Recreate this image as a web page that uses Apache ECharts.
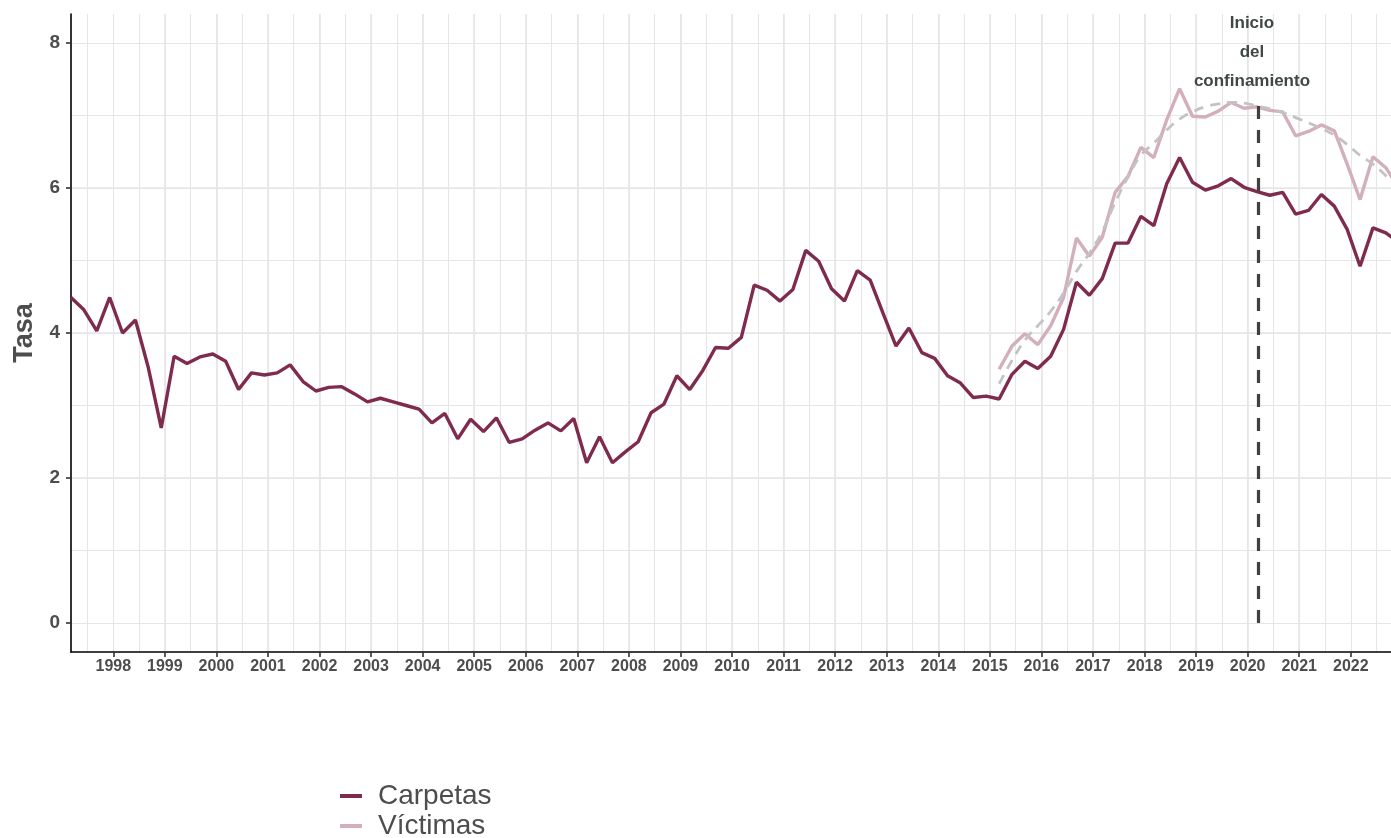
<!DOCTYPE html>
<html>
<head>
<meta charset="utf-8">
<script src="https://cdn.jsdelivr.net/npm/echarts@6/dist/echarts.min.js"></script>
<style>
  html, body { margin: 0; padding: 0; background: #fff; }
  #chart { width: 1391px; height: 838px; }
</style>
</head>
<body>
<div id="chart"></div>
<script>
// Quarterly periods: first quarter shown is 1997 Q1, last is 2022 Q4
const firstYear = 1997;
const quarterOffset = 0.18;   // position of each quarter's date inside the year (x in decimal years)

// Tasa de carpetas (1997 Q1 ... 2022 Q4)
const carpetas = [
  4.49, 4.32, 4.03, 4.49, 4.00, 4.18, 3.52, 2.69, 3.68, 3.58,
  3.67, 3.71, 3.61, 3.22, 3.45, 3.42, 3.45, 3.56, 3.33, 3.20,
  3.25, 3.26, 3.16, 3.05, 3.10, 3.05, 3.00, 2.95, 2.76, 2.89,
  2.54, 2.81, 2.64, 2.83, 2.49, 2.54, 2.66, 2.76, 2.65, 2.82,
  2.21, 2.57, 2.21, 2.36, 2.50, 2.90, 3.02, 3.41, 3.22, 3.48,
  3.80, 3.79, 3.94, 4.66, 4.59, 4.44, 4.60, 5.14, 4.99, 4.61,
  4.44, 4.86, 4.73, 4.27, 3.82, 4.07, 3.73, 3.65, 3.41, 3.31,
  3.11, 3.13, 3.09, 3.43, 3.61, 3.51, 3.68, 4.05, 4.70, 4.52,
  4.75, 5.24, 5.24, 5.61, 5.48, 6.06, 6.42, 6.08, 5.97, 6.03,
  6.13, 6.01, 5.95, 5.90, 5.94, 5.64, 5.69, 5.91, 5.75, 5.43,
  4.92, 5.45, 5.38, 5.25
];

// Tasa de víctimas (2015 Q1 ... 2022 Q4)
const victimasStart = 72;   // index of the first quarter with víctimas data
const victimas = [
  3.50, 3.82, 3.99, 3.84, 4.10, 4.49, 5.31, 5.06, 5.32, 5.94,
  6.16, 6.56, 6.42, 6.94, 7.37, 6.99, 6.98, 7.06, 7.18, 7.10,
  7.12, 7.07, 7.05, 6.72, 6.78, 6.87, 6.79, 6.33, 5.84, 6.43,
  6.28, 6.00
];

// Smoothed trend of víctimas (dashed grey)
const tendencia = [
  3.30, 3.62, 3.90, 4.10, 4.30, 4.55, 4.85, 5.10, 5.40, 5.80,
  6.15, 6.45, 6.62, 6.80, 6.95, 7.05, 7.12, 7.16, 7.18, 7.17,
  7.13, 7.09, 7.04, 6.97, 6.90, 6.82, 6.73, 6.60, 6.45, 6.33,
  6.17, 6.00
];

const yearTicks = [1998,1999,2000,2001,2002,2003,2004,2005,2006,2007,2008,2009,2010,
                   2011,2012,2013,2014,2015,2016,2017,2018,2019,2020,2021,2022];
const yTicks = [0, 2, 4, 6, 8];

const confinamiento = 2020.2;
const confinamientoTop = 7.2;
const confinamientoLabel = 'Inicio\ndel\nconfinamiento';

const xMin = 1997.18, xMax = 2022.78;
const yMin = -0.4, yMax = 8.4;

function qx(i) { return +(firstYear + quarterOffset + i * 0.25).toFixed(4); }

const carpetasData = carpetas.map((v, i) => [qx(i), v]);
const victimasData = victimas.map((v, i) => [qx(i + victimasStart), v]);
const tendenciaData = tendencia.map((v, i) => [qx(i + victimasStart), v]);

const FONT = 'Liberation Sans, Arial, sans-serif';
const GRID = '#e6e6e6';

const chart = echarts.init(document.getElementById('chart'), null, { renderer: 'canvas' });
chart.setOption({
  animation: false,
  backgroundColor: '#ffffff',
  grid: { left: 71, right: 0, top: 14, bottom: 186, containLabel: false },
  legend: {
    data: ['Carpetas', 'Víctimas'],
    orient: 'vertical',
    left: 340,
    top: 782,
    height: 100,
    padding: 0,
    icon: 'rect',
    itemWidth: 22,
    itemHeight: 4,
    itemGap: 2,
    selectedMode: false,
    textStyle: { fontSize: 28, color: '#4d4d4d', fontFamily: FONT, padding: [0, 0, 0, 11] }
  },
  xAxis: [
    {
      type: 'value', min: xMin, max: xMax, splitNumber: 25, position: 'bottom',
      axisLine: { show: true, onZero: false, lineStyle: { color: '#000', width: 1.6 } },
      axisTick: { show: true, length: 5, customValues: yearTicks, lineStyle: { color: '#333', width: 1.6 } },
      axisLabel: { customValues: yearTicks, formatter: v => String(v), color: '#4d4d4d',
                   fontWeight: 'bold', fontSize: 16, fontFamily: FONT, margin: 7 },
      splitLine: { show: true, showMinLine: false, showMaxLine: false, lineStyle: { color: GRID, width: 1.6 } }
    },
    {
      type: 'value', min: xMin, max: xMax, splitNumber: 51, position: 'bottom',
      axisLine: { show: false }, axisTick: { show: false }, axisLabel: { show: false },
      splitLine: { show: true, showMinLine: false, showMaxLine: false, lineStyle: { color: GRID, width: 1.1 } }
    }
  ],
  yAxis: [
    {
      type: 'value', min: yMin, max: yMax, splitNumber: 4, position: 'left',
      name: 'Tasa', nameLocation: 'middle', nameGap: 26,
      nameTextStyle: { fontSize: 27, fontWeight: 'bold', color: '#4d4d4d', fontFamily: FONT },
      axisLine: { show: true, onZero: false, lineStyle: { color: '#000', width: 1.6 } },
      axisTick: { show: true, length: 5, customValues: yTicks, lineStyle: { color: '#333', width: 1.6 } },
      axisLabel: { customValues: yTicks, formatter: v => String(v), color: '#4d4d4d',
                   fontWeight: 'bold', fontSize: 19, fontFamily: FONT, margin: 11 },
      splitLine: { show: true, showMinLine: false, showMaxLine: false, lineStyle: { color: GRID, width: 1.6 } }
    },
    {
      type: 'value', min: yMin, max: yMax, splitNumber: 9, position: 'left',
      axisLine: { show: false }, axisTick: { show: false }, axisLabel: { show: false },
      splitLine: { show: true, showMinLine: false, showMaxLine: false, lineStyle: { color: GRID, width: 1.1 } }
    }
  ],
  series: [
    {
      name: 'Carpetas', type: 'line', xAxisIndex: 0, yAxisIndex: 0,
      data: carpetasData, showSymbol: false, symbol: 'none',
      itemStyle: { color: '#7f2b4e' },
      lineStyle: { color: '#7f2b4e', width: 3.4 }, z: 3
    },
    {
      name: 'Víctimas', type: 'line', xAxisIndex: 0, yAxisIndex: 0,
      data: victimasData, showSymbol: false, symbol: 'none',
      itemStyle: { color: '#d3afbe' },
      lineStyle: { color: '#d3afbe', width: 3.4 }, z: 3
    },
    {
      name: 'Tendencia', type: 'line', xAxisIndex: 0, yAxisIndex: 0,
      data: tendenciaData, showSymbol: false, symbol: 'none', smooth: true,
      lineStyle: { color: '#c3c3c3', width: 2.8, type: [10, 7] }, z: 4,
      markLine: {
        silent: true, symbol: 'none',
        lineStyle: { color: '#404040', width: 3.2, type: [13, 11] },
        label: {
          show: true, position: 'end', formatter: confinamientoLabel,
          fontSize: 17, fontWeight: 'bold', color: '#3f4747', fontFamily: FONT,
          lineHeight: 29, distance: 5, offset: [-6, 0]
        },
        data: [[{ coord: [confinamiento, 0] }, { coord: [confinamiento, confinamientoTop] }]]
      }
    }
  ]
});
</script>
</body>
</html>
